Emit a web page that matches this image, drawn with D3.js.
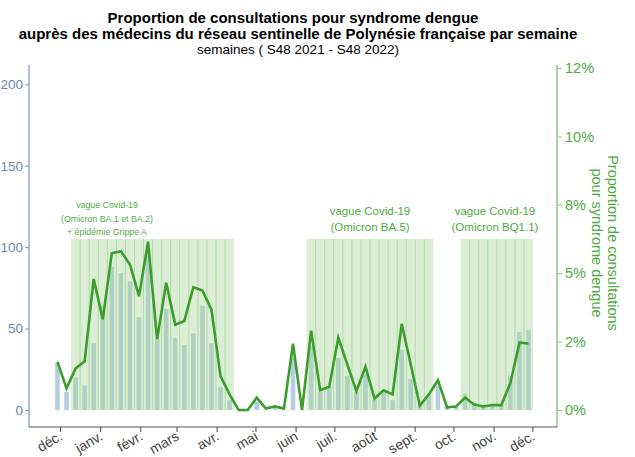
<!DOCTYPE html>
<html>
<head>
<meta charset="utf-8">
<script src="https://cdn.jsdelivr.net/npm/d3@7"></script>
<style>
  body { margin: 0; background: #fff; }
  svg { font-family: "Liberation Sans", Arial, sans-serif; }
</style>
</head>
<body>
<div id="chart"></div>
<script>
// weeks S48 2021 -> S48 2022
const weeks = [
  "2021-S48", "2021-S49", "2021-S50", "2021-S51", "2021-S52",
  "2022-S01", "2022-S02", "2022-S03", "2022-S04", "2022-S05", "2022-S06", "2022-S07", "2022-S08",
  "2022-S09", "2022-S10", "2022-S11", "2022-S12", "2022-S13", "2022-S14", "2022-S15", "2022-S16",
  "2022-S17", "2022-S18", "2022-S19", "2022-S20", "2022-S21", "2022-S22", "2022-S23", "2022-S24",
  "2022-S25", "2022-S26", "2022-S27", "2022-S28", "2022-S29", "2022-S30", "2022-S31", "2022-S32",
  "2022-S33", "2022-S34", "2022-S35", "2022-S36", "2022-S37", "2022-S38", "2022-S39", "2022-S40",
  "2022-S41", "2022-S42", "2022-S43", "2022-S44", "2022-S45", "2022-S46", "2022-S47", "2022-S48"
]

// nombre de consultations (axe gauche)
const consultations = [
  29, 11, 20, 15, 41,
  64, 88, 84, 79, 57, 97, 43, 62,
  44, 40, 47, 64, 41, 14, 6, 0,
  0, 5, 0, 2, 0, 32, 0, 39,
  11, 14, 32, 21, 11, 22, 6, 11,
  6, 37, 19, 3, 9, 15, 2, 2,
  10, 4, 3, 3, 3, 21, 48, 49
]

// proportion de consultations en % (axe droit)
const proportion = [
  1.76, 0.79, 1.52, 1.78, 4.79,
  3.31, 5.73, 5.80, 5.32, 4.16, 6.15, 2.58, 4.65,
  3.12, 3.25, 4.49, 4.37, 3.67, 1.24, 0.57, 0,
  0, 0.45, 0.05, 0.13, 0.05, 2.42, 0, 2.90,
  0.72, 0.85, 2.64, 1.66, 0.69, 1.58, 0.42, 0.72,
  0.57, 3.15, 1.66, 0.16, 0.57, 1.09, 0.10, 0.13,
  0.45, 0.20, 0.13, 0.18, 0.18, 0.99, 2.46, 2.43
]

const leftTicks = [0, 50, 100, 150, 200]
const rightTicks = [0, 2.5, 5, 7.5, 10, 12.5]
const rightTickLabels = ["0%", "2%", "5%", "8%", "10%", "12%"]
const monthLabels = ["déc.", "janv.", "févr.", "mars", "avr.", "mai", "juin",
                     "juil.", "août", "sept.", "oct.", "nov.", "déc."]

// vagues Covid-19 (première et dernière semaine)
const waves = [
  { from: "2021-S50", to: "2022-S15", lines: ["vague Covid-19", "(Omicron BA.1 et BA.2)", "+ épidémie Grippe A"] },
  { from: "2022-S24", to: "2022-S37", lines: ["vague Covid-19", "(Omicron BA.5)"] },
  { from: "2022-S41", to: "2022-S48", lines: ["vague Covid-19", "(Omicron BQ1.1)"] }
]
const waveTop = 105

const width = 635, height = 457
const margin = { top: 68, right: 78, bottom: 47, left: 29 }
const plotW = width - margin.left - margin.right
const baseY = 410

// monday of an ISO week
function isoWeekStart(label) {
  const [y, w] = label.split("-S").map(Number)
  const jan4 = new Date(y, 0, 4)
  const day = (jan4.getDay() + 6) % 7
  const monday = new Date(y, 0, 4 - day)
  return d3.timeDay.offset(monday, (w - 1) * 7)
}
const dates = weeks.map(isoWeekStart)

const x = d3.scaleTime()
  .domain([new Date(2021, 10, 7), new Date(2022, 11, 20)])
  .range([margin.left, margin.left + plotW])
const yL = d3.scaleLinear().domain([0, 210]).range([baseY, margin.top])
const yR = d3.scaleLinear().domain([0, 12.5]).range([baseY, margin.top])

const weekW = x(dates[1]) - x(dates[0])
const barW = 4.6

const svg = d3.select("#chart").append("svg")
  .attr("width", width)
  .attr("height", height)

// bars
svg.append("g")
  .selectAll("rect")
  .data(consultations)
  .enter()
  .append("rect")
  .attr("x", (d, i) => x(dates[i]) - barW / 2)
  .attr("y", d => yL(d))
  .attr("width", barW)
  .attr("height", d => baseY - yL(d))
  .attr("fill", "#b4cddf")

// wave shading, one rect per week
waves.forEach(w => {
  const i0 = weeks.indexOf(w.from), i1 = weeks.indexOf(w.to)
  const g = svg.append("g")
  g.append("rect")
    .attr("x", x(dates[i0]) - weekW / 2)
    .attr("y", yL(waveTop))
    .attr("width", x(dates[i1]) - x(dates[i0]) + weekW)
    .attr("height", baseY - yL(waveTop))
    .attr("fill", "#a9d79b")
    .attr("opacity", 0.42)
  g.selectAll("line")
    .data(d3.range(i0 + 1, i1 + 1))
    .enter()
    .append("line")
    .attr("x1", i => x(dates[i]) - weekW / 2)
    .attr("x2", i => x(dates[i]) - weekW / 2)
    .attr("y1", yL(waveTop))
    .attr("y2", baseY)
    .attr("stroke", "#a9d79b")
    .attr("stroke-width", 1)
    .attr("opacity", 0.8)
})

// wave annotations
const annot = [
  { x: 107, y: 208, size: 8.8, dy: 13.5 },
  { x: 370, y: 215, size: 11.5, dy: 16 },
  { x: 495, y: 215, size: 11.5, dy: 16 }
]
waves.forEach((w, k) => {
  const a = annot[k]
  svg.append("text")
    .attr("text-anchor", "middle")
    .attr("fill", "#4eab40")
    .style("font-size", a.size + "px")
    .selectAll("tspan")
    .data(w.lines)
    .enter()
    .append("tspan")
    .attr("x", a.x)
    .attr("y", (d, j) => a.y + j * a.dy)
    .text(d => d)
})

// proportion line
const line = d3.line()
  .x((d, i) => x(dates[i]))
  .y(d => yR(d))
svg.append("path")
  .datum(proportion)
  .attr("d", line)
  .attr("fill", "none")
  .attr("stroke", "#3b9e2c")
  .attr("stroke-width", 2.6)
  .attr("stroke-linejoin", "miter")

// left axis
const axisL = svg.append("g")
  .attr("transform", "translate(" + margin.left + ",0)")
  .call(d3.axisLeft(yL).tickValues(leftTicks).tickSize(4).tickSizeOuter(0).tickPadding(2))
axisL.select(".domain").remove()
axisL.selectAll(".tick line").attr("stroke", "#7b96bd")
axisL.selectAll(".tick text").attr("fill", "#6887b3").style("font-size", "13.5px")
svg.append("line")
  .attr("x1", margin.left).attr("x2", margin.left)
  .attr("y1", 65).attr("y2", 427)
  .attr("stroke", "#7b96bd").attr("stroke-width", 1.2)

// right axis
const xRight = margin.left + plotW
const axisR = svg.append("g")
  .attr("transform", "translate(" + xRight + ",0)")
  .call(d3.axisRight(yR).tickValues(rightTicks).tickFormat((d, i) => rightTickLabels[i])
    .tickSize(5).tickSizeOuter(0).tickPadding(3))
axisR.select(".domain").remove()
axisR.selectAll(".tick line").attr("stroke", "#8fcc85")
axisR.selectAll(".tick text").attr("fill", "#4eab40").style("font-size", "14.5px")
svg.append("line")
  .attr("x1", xRight).attr("x2", xRight)
  .attr("y1", 65).attr("y2", 427)
  .attr("stroke", "#8fcc85").attr("stroke-width", 1.6)

// bottom axis
const monthTicks = d3.range(monthLabels.length).map(m => new Date(2021, 11 + m, 1))
const axisB = svg.append("g")
  .attr("transform", "translate(0,427)")
  .call(d3.axisBottom(x).tickValues(monthTicks).tickFormat((d, i) => monthLabels[i])
    .tickSize(5).tickSizeOuter(0))
axisB.select(".domain").remove()
axisB.selectAll(".tick line").attr("stroke", "#444")
axisB.selectAll(".tick text")
  .attr("fill", "#444")
  .style("font-size", "14px")
  .attr("text-anchor", "end")
  .attr("dy", 0)
  .attr("y", 0)
  .attr("transform", "translate(3,12) rotate(-30)")
svg.append("line")
  .attr("x1", margin.left).attr("x2", xRight)
  .attr("y1", 427).attr("y2", 427)
  .attr("stroke", "#555").attr("stroke-width", 1.2)

// right axis title
svg.append("text")
  .attr("transform", "translate(608,243) rotate(90)")
  .attr("text-anchor", "middle")
  .attr("fill", "#4eab40")
  .style("font-size", "14.5px")
  .selectAll("tspan")
  .data(["Proportion de consultations", "pour syndrome dengue"])
  .enter()
  .append("tspan")
  .attr("x", 0)
  .attr("y", (d, i) => i * 16)
  .text(d => d)

// titles
svg.append("text")
  .attr("x", 293).attr("y", 23)
  .attr("text-anchor", "middle")
  .style("font-size", "15px").style("font-weight", "bold")
  .text("Proportion de consultations pour syndrome dengue")
svg.append("text")
  .attr("x", 298).attr("y", 39)
  .attr("text-anchor", "middle")
  .style("font-size", "15px").style("font-weight", "bold")
  .text("auprès des médecins du réseau sentinelle de Polynésie française par semaine")
svg.append("text")
  .attr("x", 298).attr("y", 54)
  .attr("text-anchor", "middle")
  .style("font-size", "13.5px")
  .text("semaines ( S48 2021 - S48 2022)")
</script>
</body>
</html>
